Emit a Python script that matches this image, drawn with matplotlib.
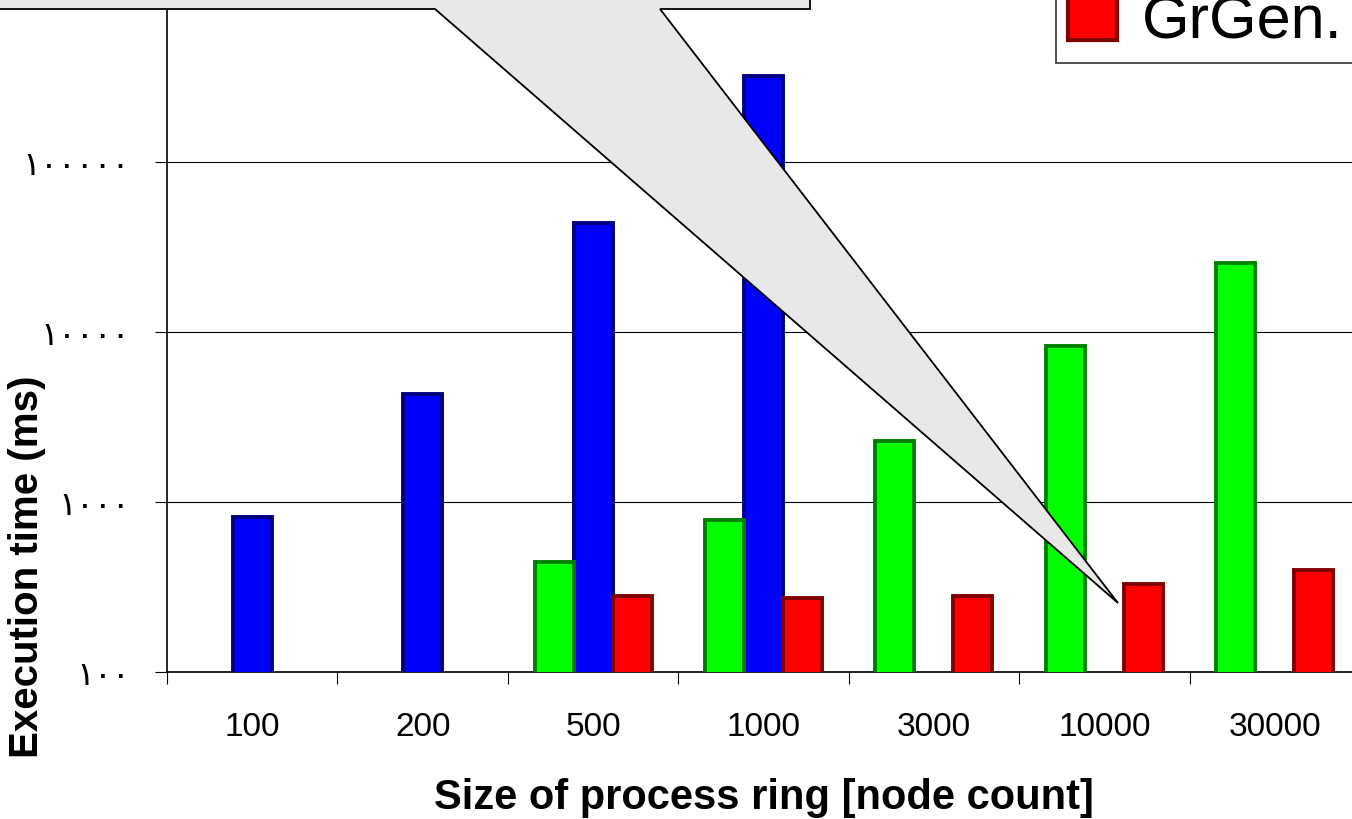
import matplotlib
matplotlib.use('Agg')
import matplotlib.pyplot as plt
from matplotlib.patches import Polygon, Patch
import numpy as np

plt.rcParams['font.family'] = ['Liberation Sans', 'DejaVu Sans']

# data (ms, log scale)
sizes = ['100', '200', '500', '1000', '3000', '10000', '30000']
blue_vals = [816, 4300, 43500, 320000, None, None, None]
green_vals = [None, None, 444, 783, 2280, 8300, 25500]
red_vals = [None, None, 280, 272, 280, 329, 398]
series_names = ['AGG', 'Fujaba', 'GrGen.']
ytick_vals = [100, 1000, 10000, 100000]
ytick_text = ['١٠٠', '١٠٠٠', '١٠٠٠٠', '١٠٠٠٠٠']

W, H = 1352, 820
fig = plt.figure(figsize=(W / 100, H / 100), dpi=100)
ax = fig.add_axes([167 / W, 1 - 673 / H, 1193 / W, 673 / H])

x = np.arange(len(sizes))
bw = 0.229
styles = [('#0000ff', '#000080'), ('#00ff00', '#008000'), ('#ff0000', '#800000')]


def draw(vals, offset, face, edge):
    xs = [xi + offset for xi, v in zip(x, vals) if v is not None]
    vs = [v for v in vals if v is not None]
    ax.bar(xs, vs, width=bw, color=face, edgecolor=edge,
           linewidth=2.8, zorder=3)


# blue in the middle, green left, red right
draw(blue_vals, 0.0, *styles[0])
draw(green_vals, -bw, *styles[1])
draw(red_vals, bw, *styles[2])

ax.set_yscale('log')
ax.set_ylim(100, 10 ** (2 + 673 / 170))
ax.set_xlim(-0.5, len(sizes) - 0.5)

ax.set_yticks(ytick_vals)
ax.set_yticklabels(ytick_text)
ax.yaxis.set_minor_locator(matplotlib.ticker.NullLocator())
ax.tick_params(axis='y', which='major', length=8.5, width=0.8, pad=18,
               labelsize=24, color='black')
ax.yaxis.grid(True, which='major', color='black', linewidth=0.8, zorder=0)
ax.set_axisbelow(True)

ax.set_xticks(np.arange(len(sizes) + 1) - 0.5)
ax.set_xticklabels([])
ax.set_xticks(x, minor=True)
ax.set_xticklabels(sizes, minor=True)
ax.tick_params(axis='x', which='major', length=8.5, width=0.8, direction='out')
ax.tick_params(axis='x', which='minor', length=0, pad=28, labelsize=24)

for s in ['top', 'right']:
    ax.spines[s].set_visible(False)
for s in ['left', 'bottom']:
    ax.spines[s].set_linewidth(1.2)

ax.set_xlabel('Size of process ring [node count]', fontsize=30,
              fontweight='bold', labelpad=25)
ax.set_ylabel('Execution time (ms)', fontsize=29, fontweight='bold')
ax.yaxis.set_label_coords((46 - 167) / 1193, (673 - 567) / 673)

handles = [Patch(facecolor=f, edgecolor=e, linewidth=3) for f, e in styles]
leg = ax.legend(handles, series_names, loc='lower left',
                bbox_to_anchor=(1056 / W, 1 - 64 / H),
                bbox_transform=fig.transFigure, fontsize=44, frameon=True,
                fancybox=False, borderaxespad=0, handlelength=0.8,
                handleheight=0.8, handletextpad=0.4, borderpad=0.2,
                labelspacing=0.2)
leg.get_frame().set_edgecolor('black')
leg.get_frame().set_linewidth(1.2)

# callout balloon coming down from the cropped text box
pts = [(-10, -60), (810, -60), (810, 10), (660, 10), (1118, 604),
       (435, 10), (-10, 10)]
callout = Polygon([(px / W, 1 - py / H) for px, py in pts], closed=True,
                  transform=fig.transFigure, facecolor='#e8e8e8',
                  edgecolor='black', linewidth=1.3, zorder=10)
fig.patches.append(callout)

fig.savefig('out.png', dpi=100)
